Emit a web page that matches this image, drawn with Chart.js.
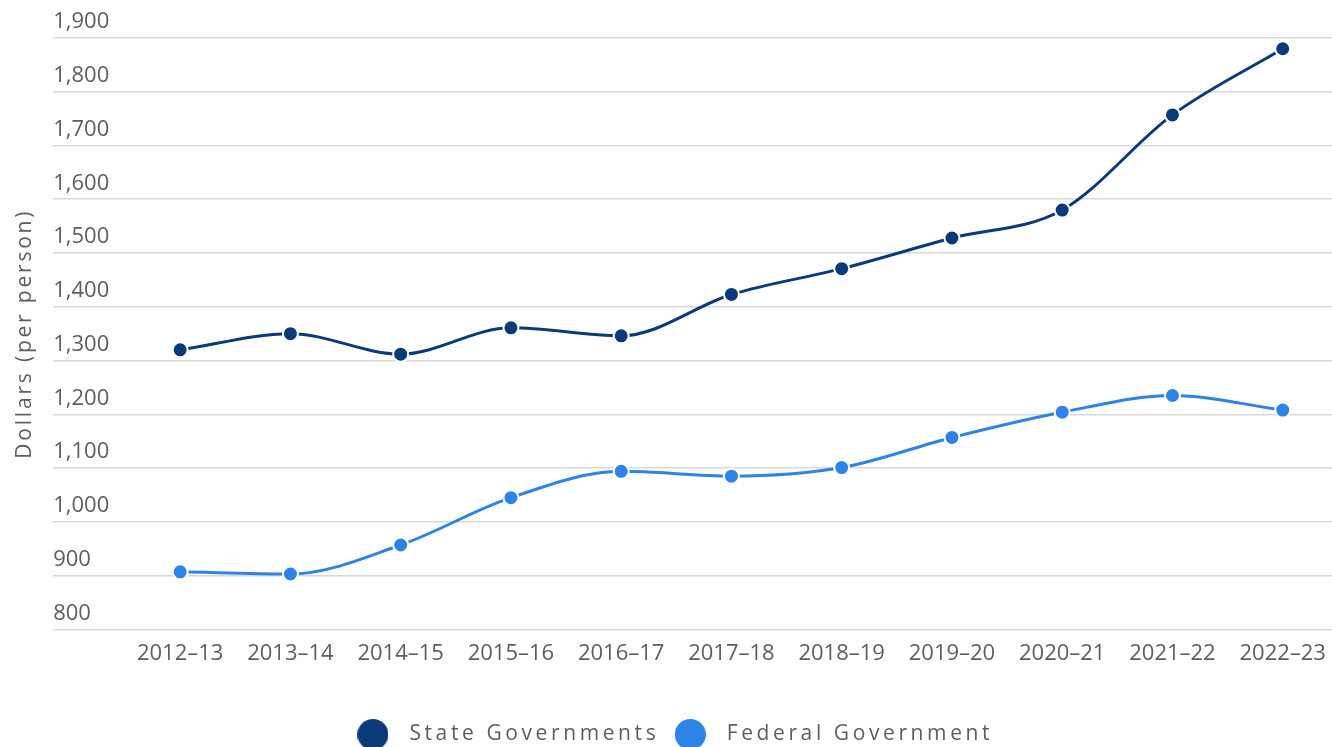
<!DOCTYPE html>
<html lang="en">
<head>
    <meta charset="UTF-8">
    <title>Dollars per person</title>
    <script src="https://cdn.jsdelivr.net/npm/chart.js"></script>
    <style>
        html, body { margin: 0; padding: 0; background: #fff; }
        #wrap { width: 1332px; height: 747px; }
    </style>
</head>
<body>
    <div id="wrap"><canvas id="spendChart"></canvas></div>
    <script>
        // Data
        const periods = ['2012–13', '2013–14', '2014–15', '2015–16', '2016–17', '2017–18',
                         '2018–19', '2019–20', '2020–21', '2021–22', '2022–23'];
        const stateValues = [1320, 1350, 1312, 1361, 1346, 1423, 1471, 1528, 1580, 1757, 1880];
        const federalValues = [907, 903, 957, 1045, 1094, 1085, 1101, 1157, 1204, 1235, 1208];
        const seriesNames = ['State Governments', 'Federal Government'];

        const stateColor = '#0b3a78';
        const federalColor = '#2e83e6';
        const textColor = '#5e5e5e';
        const fontFamily = '"Open Sans", "Noto Sans", sans-serif';

        const toPoints = values => values.map((v, i) => ({ x: i, y: v }));

        // round legend marker, drawn into a small canvas
        const makeDot = (color) => {
            const c = document.createElement('canvas');
            c.width = 31;
            c.height = 31;
            const g = c.getContext('2d');
            g.fillStyle = color;
            g.beginPath();
            g.arc(15.5, 15.5, 15.5, 0, Math.PI * 2);
            g.fill();
            return c;
        };

        // run a draw/fit function with some letter spacing on the canvas
        const spaced = (fn, spacing) => function (...args) {
            const c = this.ctx;
            c.save();
            c.letterSpacing = spacing;
            const out = fn.apply(this, args);
            c.restore();
            return out;
        };

        const letterSpacingPlugin = {
            id: 'letterSpacing',
            afterInit(chart) {
                const legend = chart.legend;
                legend.fit = spaced(legend.fit, '3.6px');
                legend.draw = spaced(legend.draw, '3.6px');
            },
            afterLayout(chart) {
                const y = chart.scales.y;
                if (!y._spaced) {
                    y.drawTitle = spaced(y.drawTitle, '2.8px');
                    y._spaced = true;
                }
            }
        };

        const makeDataset = (label, values, color) => ({
            label,
            data: toPoints(values),
            borderColor: color,
            backgroundColor: color,
            borderWidth: 3,
            cubicInterpolationMode: 'monotone',
            pointRadius: 7.5,
            pointHoverRadius: 7.5,
            pointBackgroundColor: color,
            pointBorderColor: '#ffffff',
            pointBorderWidth: 2,
            clip: false
        });

        const ctx = document.getElementById('spendChart').getContext('2d');
        new Chart(ctx, {
            type: 'line',
            data: {
                datasets: [
                    makeDataset(seriesNames[0], stateValues, stateColor),
                    makeDataset(seriesNames[1], federalValues, federalColor)
                ]
            },
            plugins: [letterSpacingPlugin],
            options: {
                responsive: true,
                maintainAspectRatio: false,
                animation: false,
                layout: {
                    autoPadding: false,
                    padding: { top: 38, left: 8, right: 0, bottom: -8 }
                },
                plugins: {
                    tooltip: { enabled: false },
                    legend: {
                        position: 'bottom',
                        labels: {
                            usePointStyle: true,
                            pointStyleWidth: 52,
                            boxHeight: 21,
                            padding: 5,
                            color: textColor,
                            font: { family: fontFamily, size: 21 },
                            generateLabels: (chart) => {
                                const items = Chart.defaults.plugins.legend.labels.generateLabels(chart);
                                return items.map(item => {
                                    item.pointStyle = makeDot(item.fillStyle);
                                    return item;
                                });
                            }
                        }
                    }
                },
                scales: {
                    x: {
                        type: 'linear',
                        min: -1.1517,
                        max: 10.447,
                        grid: { display: false, drawTicks: false },
                        border: { display: false },
                        afterFit: (scale) => {
                            scale.paddingLeft = 0;
                            scale.paddingRight = 0;
                        },
                        ticks: {
                            stepSize: 1,
                            includeBounds: false,
                            autoSkip: false,
                            maxRotation: 0,
                            padding: 11,
                            color: textColor,
                            font: { family: fontFamily, size: 22 },
                            callback: (v) => periods[v] ?? ''
                        },
                        title: {
                            display: true,
                            text: '',
                            font: { size: 1 },
                            padding: { top: 40, bottom: 0 }
                        }
                    },
                    y: {
                        min: 800,
                        max: 1900,
                        grid: { color: '#d9d9d9', lineWidth: 1.6, drawTicks: false },
                        border: { display: false },
                        ticks: {
                            stepSize: 100,
                            mirror: true,
                            padding: 0,
                            labelOffset: -16,
                            color: textColor,
                            font: { family: fontFamily, size: 22 },
                            callback: (v) => v.toLocaleString('en-US')
                        },
                        title: {
                            display: true,
                            text: 'Dollars (per person)',
                            color: textColor,
                            font: { family: fontFamily, size: 21 },
                            padding: { top: 4, bottom: 16 }
                        }
                    }
                }
            }
        });
    </script>
</body>
</html>
